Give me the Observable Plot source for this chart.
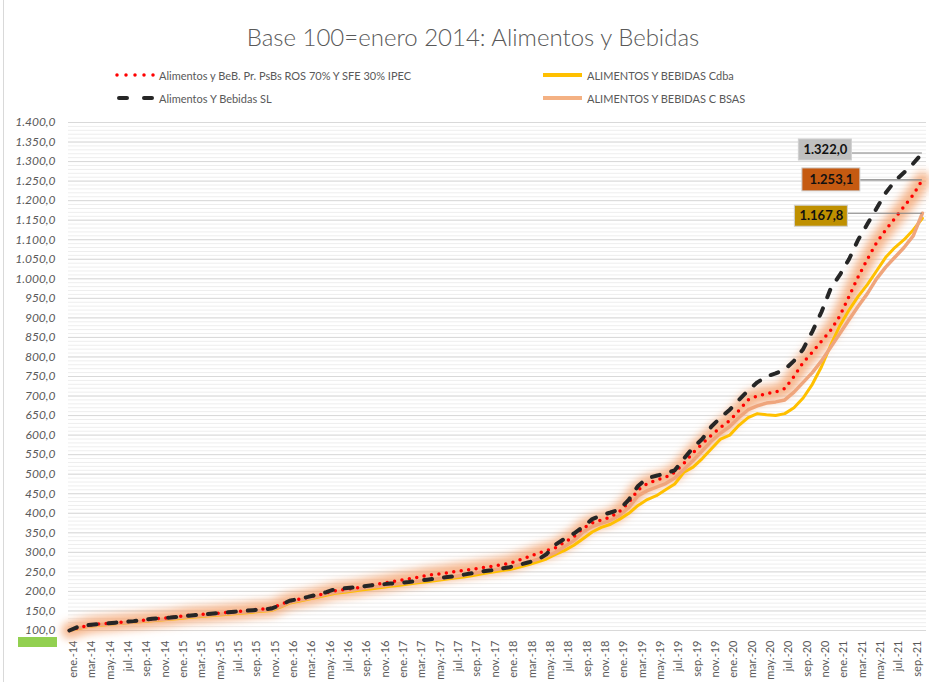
<!DOCTYPE html>
<html><head><meta charset="utf-8">
<script src="https://cdn.jsdelivr.net/npm/d3@7"></script>
<script src="https://cdn.jsdelivr.net/npm/@observablehq/plot@0.6"></script>
<style>
body{margin:0;background:#fff;font-family:Lato,"Open Sans",sans-serif;}
#wrap{position:relative;width:929px;height:682px;overflow:hidden;background:#fff}
.leg{position:absolute;font-size:11px;color:#595959;display:flex;align-items:center;white-space:nowrap;height:16px}
.leg svg{margin-right:2px}
</style></head><body>
<div id="wrap">
<div style="position:absolute;left:3px;top:0;width:1px;height:682px;background:#d9d9d9"></div>
<div id="title" style="position:absolute;left:0;top:20px;width:946px;text-align:center;font-size:24px;font-weight:300;color:#595959;line-height:34px">Base 100=enero 2014: Alimentos y Bebidas</div>
<div class="leg" style="left:115px;top:67px"><svg width="42" height="10"><line x1="2" y1="5" x2="40" y2="5" stroke="#FF0000" stroke-width="3.5" stroke-dasharray="0 9" stroke-linecap="round"/></svg><span id="l1"></span></div>
<div class="leg" style="left:115px;top:90px"><svg width="42" height="10"><line x1="4" y1="5" x2="40" y2="5" stroke="#262626" stroke-width="4" stroke-dasharray="8 17" stroke-linecap="round"/></svg><span id="l2"></span></div>
<div class="leg" style="left:543px;top:67px"><svg width="42" height="10"><line x1="0" y1="5" x2="39" y2="5" stroke="#FFC000" stroke-width="4"/></svg><span id="l3"></span></div>
<div class="leg" style="left:543px;top:90px"><svg width="42" height="10"><line x1="0" y1="5" x2="39" y2="5" stroke="#F4B183" stroke-width="4"/></svg><span id="l4"></span></div>
<div id="chart" style="position:absolute;left:0;top:110px"></div>
<div style="position:absolute;left:18px;top:637px;width:39px;height:10px;background:#92D050"></div>
</div>
<script>
// ---- data ----
const monthNames = ["ene.","feb.","mar.","abr.","may.","jun.","jul.","ago.","sep.","oct.","nov.","dic."];
const years = ["14","15","16","17","18","19","20","21"];
const months = years.flatMap(y => monthNames.map(m => m + "-" + y)).slice(0, 94); // ene.-14 .. oct.-21

const seriesNames = [
  "Alimentos y BeB. Pr. PsBs ROS 70% Y SFE 30% IPEC",
  "Alimentos Y Bebidas SL",
  "ALIMENTOS Y BEBIDAS Cdba",
  "ALIMENTOS Y BEBIDAS C BSAS"
];

const ipec = [
  100,107,113,116,118,120,122,124,126,129,131,133,
  136,139,141,142,144,146,148,150,153,155,157,166,
  176,180,185,190,196,202,205,208,212,216,220,224,
  228,232,236,241,244,247,251,254,257,261,264,268,
  272,280,288,297,304,312,326,340,362,375,383,390,
  405,428,460,476,485,492,505,528,555,578,600,620,
  637,663,690,700,706,710,719,750,786,812,840,868,
  905,955,1005,1050,1092,1125,1155,1185,1215,1253.1
];
const sl = [
  100,110,114,116,118,120,122,124,127,130,132,133,
  135,138,140,142,144,146,148,150,152,154,156,165,
  176,181,186,192,198,206,208,210,213,216,218,220,
  222,224,227,230,233,236,239,243,247,251,254,258,
  262,268,274,280,295,320,335,348,365,385,395,402,
  410,435,470,490,496,502,510,540,568,590,622,645,
  665,690,714,735,750,758,768,790,820,865,915,975,
  1010,1050,1100,1140,1180,1220,1250,1272,1295,1322.0
];
const cdba = [
  100,105,110,113,115,117,119,121,123,125,127,129,
  131,133,135,137,139,141,143,145,147,149,151,160,
  170,175,180,185,190,195,198,201,204,207,210,213,
  216,219,222,225,228,231,234,237,241,245,249,253,
  256,262,268,275,283,295,305,318,335,352,364,372,
  385,400,420,435,445,460,475,505,518,540,565,590,
  600,625,645,655,652,650,655,670,695,730,775,830,
  880,920,955,985,1020,1055,1080,1100,1125,1155
];
const bsas = [
  100,106,111,114,116,118,120,122,124,126,128,130,
  133,135,137,139,141,143,145,147,149,151,153,162,
  172,177,182,187,193,198,201,204,208,211,214,217,
  220,223,226,229,232,235,238,242,246,250,254,258,
  262,268,275,282,290,300,315,330,352,366,374,382,
  395,415,445,458,467,476,490,512,535,560,585,605,
  622,645,665,675,682,685,690,710,735,760,790,825,
  860,895,930,962,1000,1030,1055,1080,1110,1167.8
];
const yMajor = d3.range(100, 1401, 50);
const yMinor = d3.range(100, 1401, 10);
const xTicks = d3.range(0, months.length, 2);

// ---- build ----
["l1","l2","l3","l4"].forEach((id, k) => document.getElementById(id).textContent = seriesNames[k]);
const es = d3.formatLocale({decimal: ",", thousands: ".", grouping: [3], currency: ["", "€"]});
const fmt = es.format(",.1f");
const rows = vals => vals.map((v, i) => ({i, v}));
const last = vals => [{i: vals.length - 1, v: vals[vals.length - 1]}];

function endLabel(vals, fill, dx, dy, w, h) {
  const d = last(vals);
  return [
    Plot.ruleY(d, {y: "v", x1: "i", x2: "i", insetLeft: dx + w / 2, stroke: "#808080", strokeWidth: 1.2}),
    Plot.rect(d, {x1: "i", x2: "i", y1: "v", y2: "v", insetLeft: -w / 2, insetRight: -w / 2, insetTop: -h / 2, insetBottom: -h / 2, dx, dy, fill, stroke: "#d0d0d0", strokeWidth: 1}),
    Plot.text(d, {x: "i", y: "v", text: r => fmt(r.v), dx, dy, fontWeight: "bold", fontSize: 13, fill: "#111"})
  ];
}

const chart = Plot.plot({
  width: 929, height: 572,
  marginLeft: 68, marginRight: 3, marginTop: 12, marginBottom: 52,
  style: {fontFamily: "Lato, 'Open Sans', sans-serif", background: "transparent", overflow: "visible"},
  x: {type: "linear", domain: [-0.1, 93.45]},
  y: {domain: [100, 1400], axis: null},
  marks: [
    Plot.ruleY(yMinor, {stroke: "#eeeeee"}),
    Plot.ruleY(yMajor, {stroke: "#d9d9d9"}),
    Plot.text(yMajor, {y: d => d, frameAnchor: "left", text: d => fmt(d), textAnchor: "end", dx: -13, fontSize: 12, fontStyle: "italic", fill: "#595959"}),
    Plot.axisX({ticks: xTicks, tickSize: 0, tickPadding: 10, tickRotate: -90, tickFormat: i => months[i], fontSize: 11, fill: "#595959", dx: 4, label: null}),
    Plot.line(rows(ipec), {x: "i", y: "v", stroke: "#F4A06A", strokeWidth: 16, strokeOpacity: 0.75}),
    Plot.line(rows(cdba), {x: "i", y: "v", stroke: "#FFC000", strokeWidth: 3}),
    Plot.line(rows(bsas), {x: "i", y: "v", stroke: "#EFA57C", strokeWidth: 3.5}),
    Plot.line(rows(ipec), {x: "i", y: "v", stroke: "#FF0000", strokeWidth: 3.5, strokeDasharray: "0 7.5", strokeLinecap: "round"}),
    Plot.line(rows(sl), {x: "i", y: "v", stroke: "#262626", strokeWidth: 4, strokeDasharray: "8 12", strokeLinecap: "round"}),
    ...endLabel(sl, "#BFBFBF", -97, -3, 53, 21),
    ...endLabel(ipec, "#C55A11", -91, 0, 58, 23),
    ...endLabel(bsas, "#BF9000", -101, 3, 53, 21)
  ]
});
// soft glow on the first line mark
const ns = "http://www.w3.org/2000/svg";
const defs = document.createElementNS(ns, "defs");
defs.innerHTML = '<filter id="glow" x="-10%" y="-10%" width="120%" height="120%"><feGaussianBlur stdDeviation="4.5"/></filter>';
chart.insertBefore(defs, chart.firstChild);
const lines = chart.querySelectorAll('g[aria-label="line"]');
if (lines.length) lines[0].setAttribute("filter", "url(#glow)");
document.getElementById("chart").appendChild(chart);
</script>
</body></html>
